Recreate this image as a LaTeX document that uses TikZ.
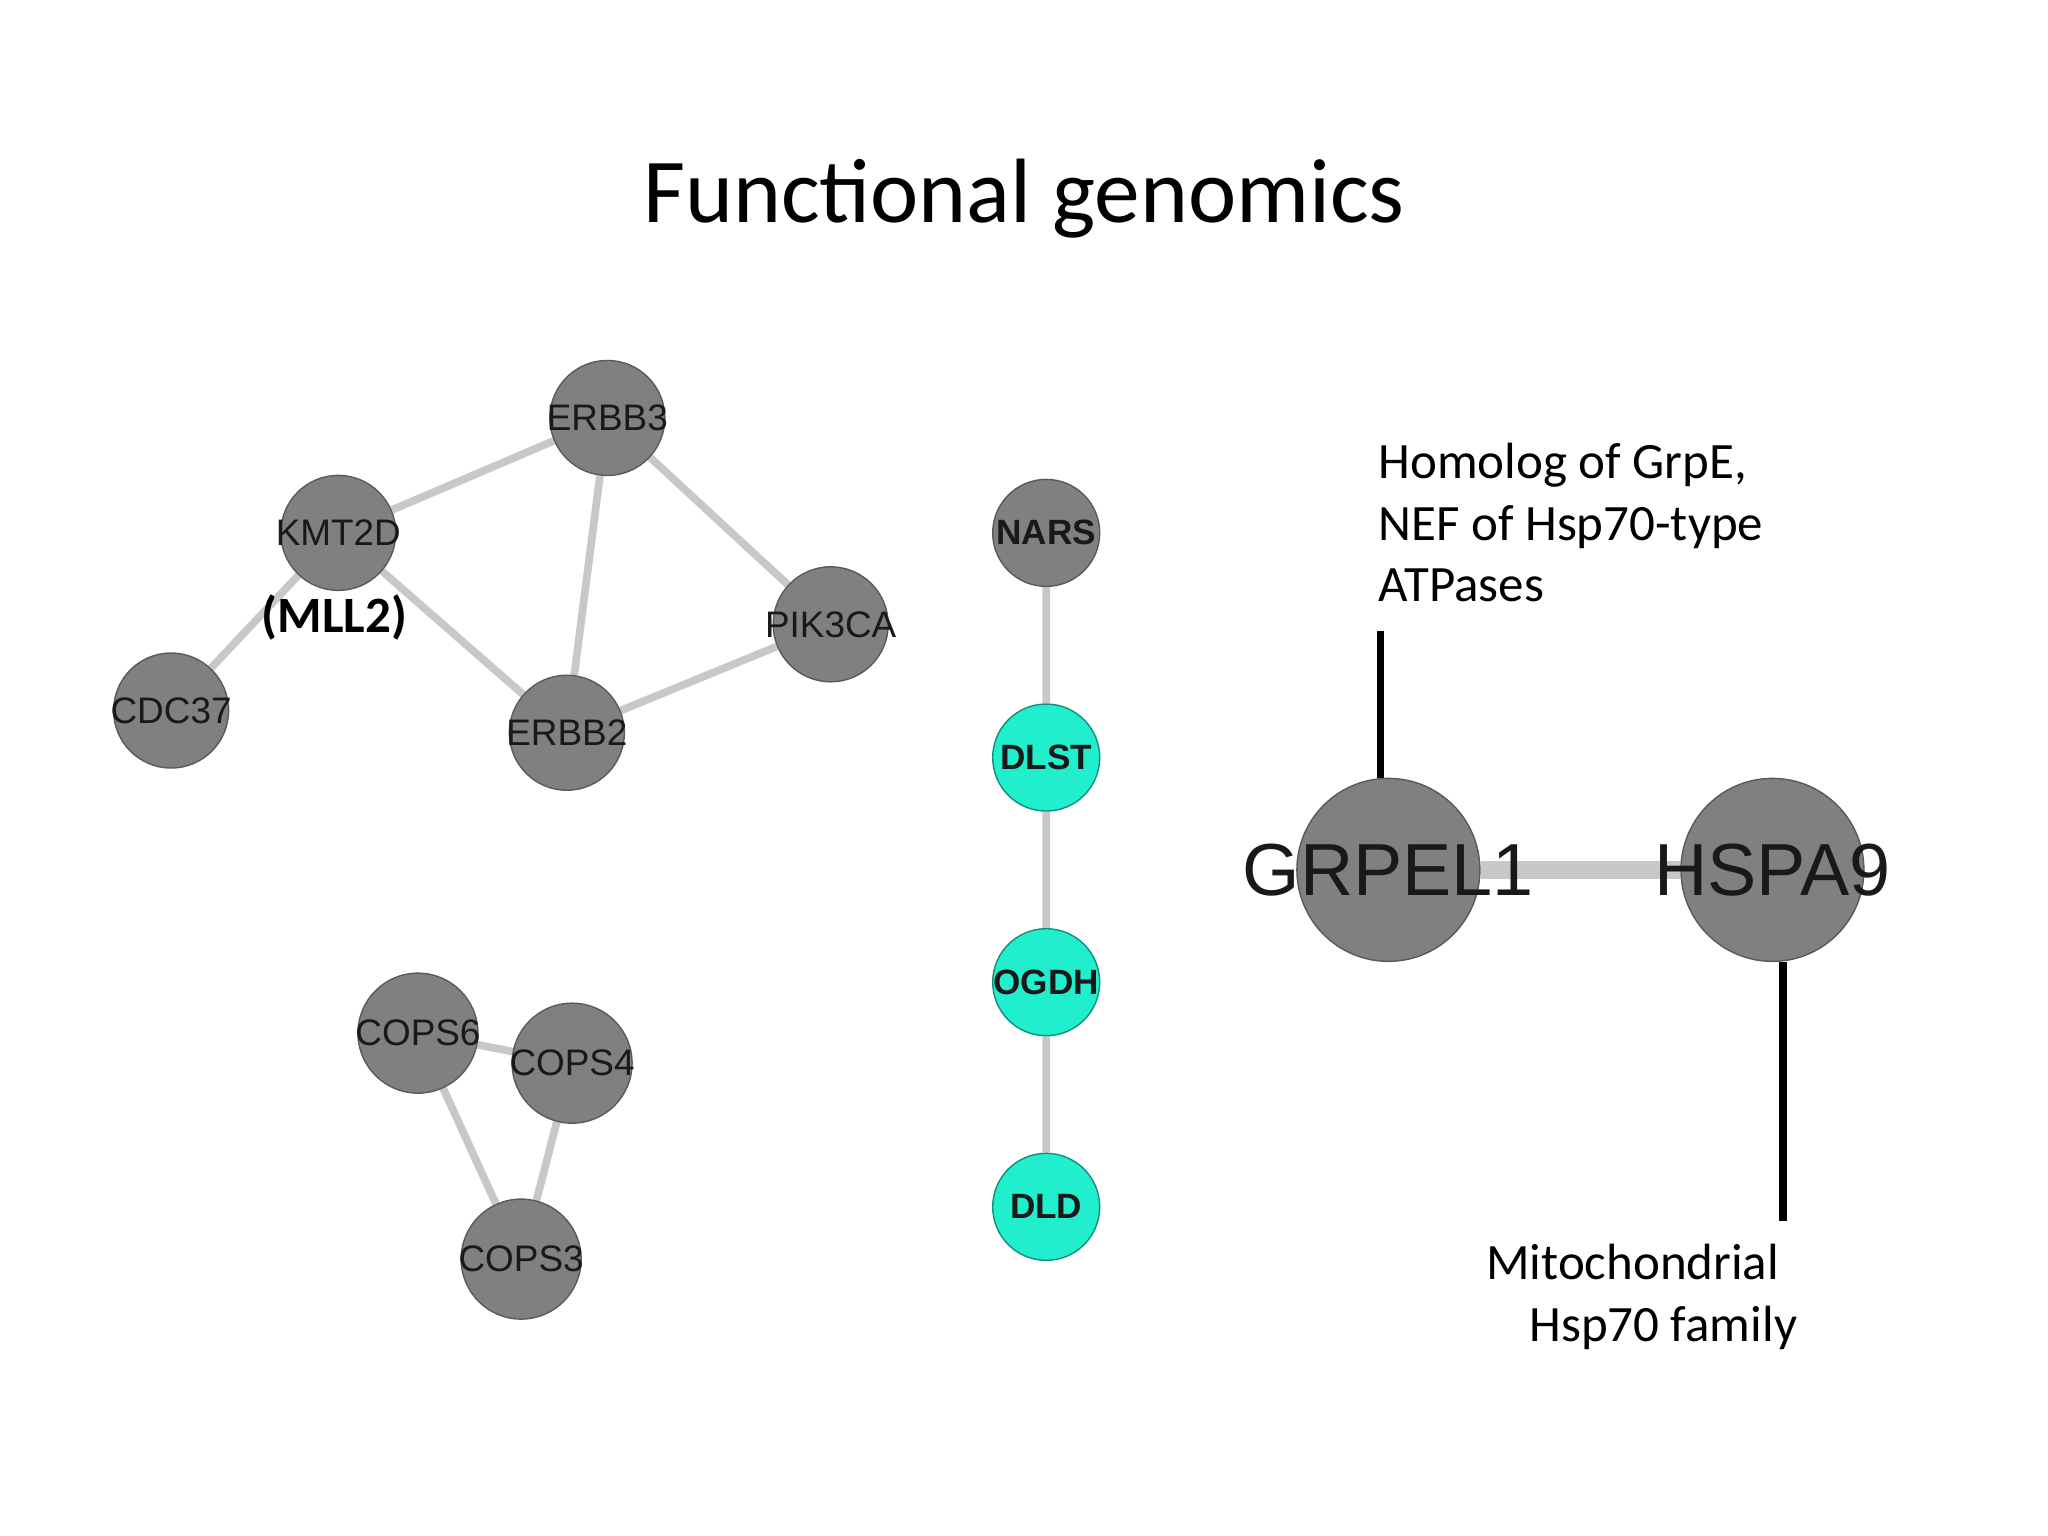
\documentclass[tikz,border=0pt]{standalone}
\usepackage{fontspec}
\setmainfont{Carlito}
\newfontfamily\nodefont{Liberation Sans}
\usetikzlibrary{positioning,backgrounds}
\definecolor{gene}{RGB}{128,128,128}
\definecolor{tca}{RGB}{32,238,205}
\definecolor{link}{RGB}{200,200,200}
\newcommand{\gname}[1]{\makebox[0pt]{#1}}
\begin{document}
\begin{tikzpicture}[x=0.01306cm,y=-0.01306cm]
    \tikzstyle{nd}=[circle,draw=gene!70!black,fill=gene,minimum size=1.15cm,
      inner sep=0pt,font=\nodefont\fontsize{10.5}{12}\selectfont,text=black!90]
    \tikzstyle{big}=[nd,minimum size=1.83cm,font=\nodefont\fontsize{21}{24}\selectfont]
    \tikzstyle{cy}=[nd,fill=tca,draw=tca!60!black,minimum size=1.07cm,font=\nodefont\bfseries\fontsize{10}{11}\selectfont]
    \tikzstyle{ed}=[draw=link,line width=2.2pt]
    \tikzstyle{note}=[align=left,font=\fontsize{14.5}{17.5}\selectfont,inner sep=0pt]
    \useasboundingbox (0,0) rectangle (1568,1176);
    \node[font=\fontsize{26}{30}\selectfont] (title) at (784,152) {Functional genomics};
    % first cluster
    \node[nd](erbb3) at (465,320){\gname{ERBB3}};
    \node[nd](kmt2d) at (259,408){\gname{KMT2D}};
    \node[nd](pik3ca) at (636,478){\gname{PIK3CA}};
    \node[nd](cdc37) at (131,544){\gname{CDC37}};
    \node[nd](erbb2) at (434,561){\gname{ERBB2}};
    \node[font=\bfseries\fontsize{14.5}{16}\selectfont](mll2) at (256,473){(MLL2)};
    % chain
    \node[nd,minimum size=1.07cm,font=\nodefont\bfseries\fontsize{10}{11}\selectfont](nars) at (801,408){NARS};
    \node[cy](dlst) at (801,580){DLST};
    \node[cy](ogdh) at (801,752){\gname{OGDH}};
    \node[cy](dld) at (801,924){DLD};
    % pair
    \node[big](grpel1) at (1063,666){\gname{GRPEL1}};
    \node[big](hspa9) at (1357,666){\gname{HSPA9}};
    % cop9 cluster
    \node[nd,minimum size=1.2cm](cops6) at (320,791){\gname{COPS6}};
    \node[nd,minimum size=1.2cm](cops4) at (438,814){\gname{COPS4}};
    \node[nd,minimum size=1.2cm](cops3) at (399,964){\gname{COPS3}};
    \begin{scope}[on background layer]
    \draw[ed] (kmt2d)--(erbb3) (erbb3)--(erbb2) (erbb3)--(pik3ca)
      (kmt2d)--(erbb2) (erbb2)--(pik3ca) (kmt2d)--(cdc37)
      (nars)--(dlst) (dlst)--(ogdh) (ogdh)--(dld)
      (cops6)--(cops4) (cops6)--(cops3) (cops4)--(cops3);
    \draw[ed,line width=5pt] (grpel1)--(hspa9);
    \end{scope}
    % annotations
    \node[note,anchor=north west](grpe) at (1055,339){Homolog of GrpE,\\NEF of Hsp70-type\\ATPases};
    \node[note,align=center,anchor=north](hsp) at (1250,952){Mitochondrial\\\hspace*{1.2em}Hsp70 family};
    \coordinate (gtop) at (1057,483);
    \coordinate (hbot) at (1365,935);
    \draw[line width=2.2pt] (gtop) -- (gtop|-grpel1.north);
    \draw[line width=2.2pt] (hbot) -- (hbot|-hspa9.south);
\end{tikzpicture}
\end{document}
